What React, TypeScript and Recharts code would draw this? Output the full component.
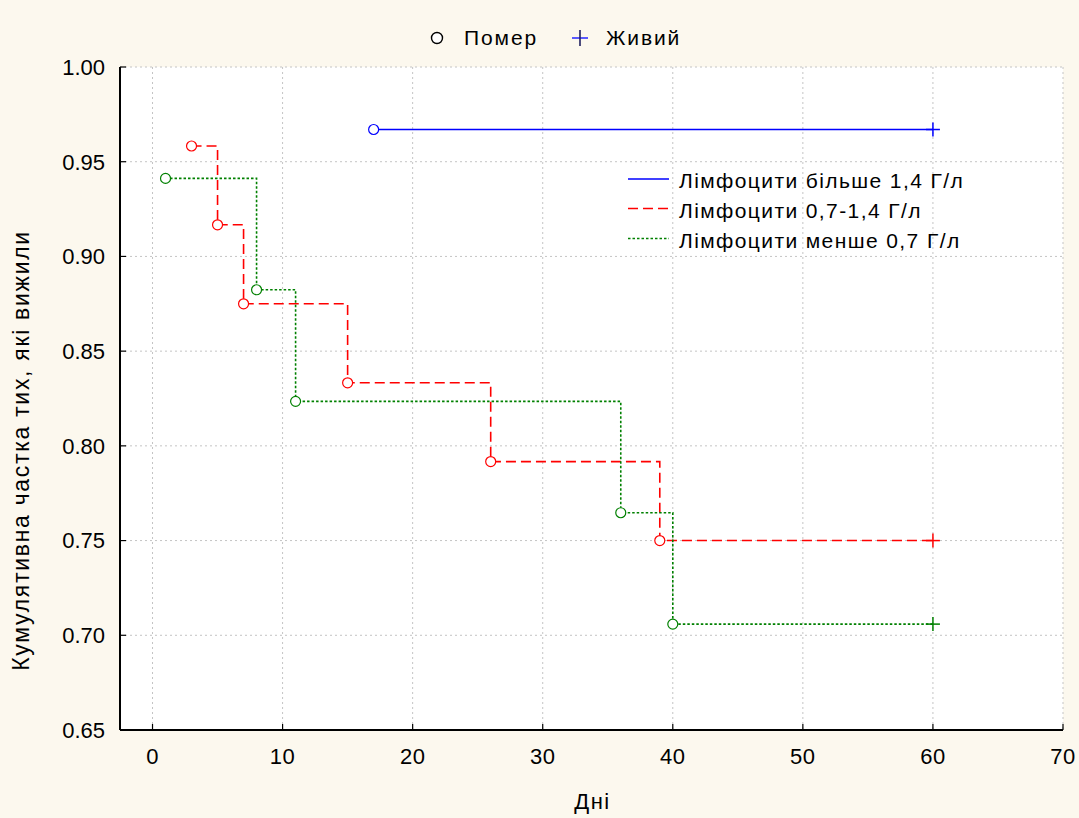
import React from 'react';
import { LineChart, Line, XAxis, YAxis, CartesianGrid, Customized, Label } from 'recharts';

// ---- data ----
const xTicks = [0, 10, 20, 30, 40, 50, 60, 70];
const yTicks = [0.65, 0.7, 0.75, 0.8, 0.85, 0.9, 0.95, 1.0];

const seriesNames = ['Лімфоцити більше 1,4 Г/л', 'Лімфоцити 0,7-1,4 Г/л', 'Лімфоцити менше 0,7 Г/л'];
const markerLabels = ['Помер', 'Живий'];
const xTitle = 'Дні';
const yTitle = 'Кумулятивна частка тих, які вижили';

const highDays = [17, 60];
const highSurv = [0.967, 0.967];
const highEvents = ['d', 'c'];

const midDays = [3, 5, 7, 15, 26, 39, 60];
const midSurv = [0.9583, 0.9167, 0.875, 0.8333, 0.7917, 0.75, 0.75];
const midEvents = ['d', 'd', 'd', 'd', 'd', 'd', 'c'];

const lowDays = [1, 8, 11, 36, 40, 60];
const lowSurv = [0.9412, 0.8824, 0.8235, 0.7647, 0.7059, 0.7059];
const lowEvents = ['d', 'd', 'd', 'd', 'd', 'c'];

const build = (days: number[], surv: number[], ev: string[]) =>
  days.map((d, i) => ({ x: d, y: surv[i], ev: ev[i] }));

const highData = build(highDays, highSurv, highEvents);
const midData = build(midDays, midSurv, midEvents);
const lowData = build(lowDays, lowSurv, lowEvents);

// ---- styles ----
const FONT = '"Liberation Sans", Arial, sans-serif';
const BG = '#FCF8EE';
const colors = ['#0000FF', '#FF0000', '#008000'];
const dashes = ['', '10 5', '2.5 2'];

const makeDot = (color: string) => (props: any) => {
  const { cx, cy, payload, index } = props;
  if (cx == null || cy == null) return <g key={index} />;
  if (payload.ev === 'c') {
    return (
      <g key={index}>
        <line x1={cx - 7} x2={cx + 7} y1={cy} y2={cy} stroke={color} strokeWidth={1.5} />
        <line x1={cx} x2={cx} y1={cy - 7} y2={cy + 7} stroke={color} strokeWidth={1.5} />
      </g>
    );
  }
  return <circle key={index} cx={cx} cy={cy} r={5} fill="#fff" stroke={color} strokeWidth={1.2} />;
};

const XTitle = (props: any) => {
  const vb = props.viewBox || {};
  return (
    <text x={vb.x + vb.width / 2 + 1} y={vb.y + vb.height - 9} textAnchor="middle" fontSize={22} letterSpacing={1.5} fontFamily={FONT} fill="#000">
      {xTitle}
    </text>
  );
};

const YTitle = (props: any) => {
  const vb = props.viewBox || {};
  const cx = vb.x + 29;
  const cy = vb.y + vb.height / 2 + 52;
  return (
    <text x={cx} y={cy} transform={`rotate(-90, ${cx}, ${cy})`} textAnchor="middle" fontSize={23} letterSpacing={1.7} fontFamily={FONT} fill="#000">
      {yTitle}
    </text>
  );
};

const Legends = () => {
  const rows = [188, 217.5, 247.5];
  return (
    <g fontFamily={FONT} fill="#000">
      {/* top marker legend */}
      <circle cx={437} cy={38} r={5.5} fill="#fff" stroke="#000" strokeWidth={1.4} />
      <text x={464} y={45} fontSize={21} letterSpacing={1.9}>{markerLabels[0]}</text>
      <line x1={572} x2={588} y1={38} y2={38} stroke="#3030FF" strokeWidth={1.6} />
      <line x1={580} x2={580} y1={30} y2={46} stroke="#202060" strokeWidth={1.6} />
      <text x={606} y={45} fontSize={21} letterSpacing={1.9}>{markerLabels[1]}</text>
      {/* series legend */}
      {seriesNames.map((n, i) => (
        <g key={n}>
          <line x1={628} x2={669} y1={rows[i] - 9} y2={rows[i] - 9} stroke={colors[i]} strokeWidth={1.6} strokeDasharray={dashes[i] || undefined} />
          <text x={679} y={rows[i]} fontSize={21} letterSpacing={1.4}>{n}</text>
        </g>
      ))}
    </g>
  );
};

export default function App() {
  return (
    <div style={{ position: 'absolute', left: 0, top: 0, width: 1079, height: 818, background: BG }}>
      <LineChart width={1079} height={818} data={midData} margin={{ top: 67, right: 16, bottom: 0, left: 0 }}>
        <CartesianGrid stroke="#c4c4c4" strokeDasharray="2 3" fill="#ffffff" fillOpacity={1} />
        <XAxis
          dataKey="x"
          type="number"
          domain={[-2.5, 70]}
          ticks={xTicks}
          interval={0}
          allowDataOverflow
          orientation="bottom"
          height={88}
          tickSize={-6}
          tickMargin={24}
          axisLine={{ stroke: '#000', strokeWidth: 2 }}
          tickLine={{ stroke: '#000', strokeWidth: 1.2 }}
          tick={{ fill: '#000', fontSize: 22, fontFamily: FONT, letterSpacing: 0.5 }}
        >
          <Label content={XTitle} />
        </XAxis>
        <XAxis
          xAxisId="top"
          dataKey="x"
          type="number"
          domain={[-2.5, 70]}
          ticks={xTicks}
          interval={0}
          allowDataOverflow
          orientation="top"
          height={0}
          tickSize={-6}
          tick={false}
          axisLine={{ stroke: '#000', strokeWidth: 2 }}
          tickLine={{ stroke: '#000', strokeWidth: 1.2 }}
        />
        <YAxis
          type="number"
          domain={[0.65, 1.0]}
          ticks={yTicks}
          interval={0}
          allowDataOverflow
          width={120}
          tickSize={-6}
          tickMargin={21}
          tickFormatter={(v: number) => v.toFixed(2)}
          axisLine={{ stroke: '#000', strokeWidth: 2 }}
          tickLine={{ stroke: '#000', strokeWidth: 1.2 }}
          tick={{ fill: '#000', fontSize: 22, fontFamily: FONT }}
        >
          <Label content={YTitle} />
        </YAxis>
        <YAxis
          yAxisId="right"
          orientation="right"
          type="number"
          domain={[0.65, 1.0]}
          ticks={yTicks}
          interval={0}
          allowDataOverflow
          width={0}
          tickSize={-6}
          tick={false}
          axisLine={{ stroke: '#000', strokeWidth: 2.5 }}
          tickLine={{ stroke: '#000', strokeWidth: 1.2 }}
        />
        <Line data={highData} dataKey="y" type="stepAfter" stroke={colors[0]} strokeWidth={1.6} dot={makeDot(colors[0])} activeDot={false} isAnimationActive={false} />
        <Line data={midData} dataKey="y" type="stepAfter" stroke={colors[1]} strokeWidth={1.6} strokeDasharray={dashes[1]} dot={makeDot(colors[1])} activeDot={false} isAnimationActive={false} />
        <Line data={lowData} dataKey="y" type="stepAfter" stroke={colors[2]} strokeWidth={1.6} strokeDasharray={dashes[2]} dot={makeDot(colors[2])} activeDot={false} isAnimationActive={false} />
        <Customized component={Legends} />
      </LineChart>
    </div>
  );
}
